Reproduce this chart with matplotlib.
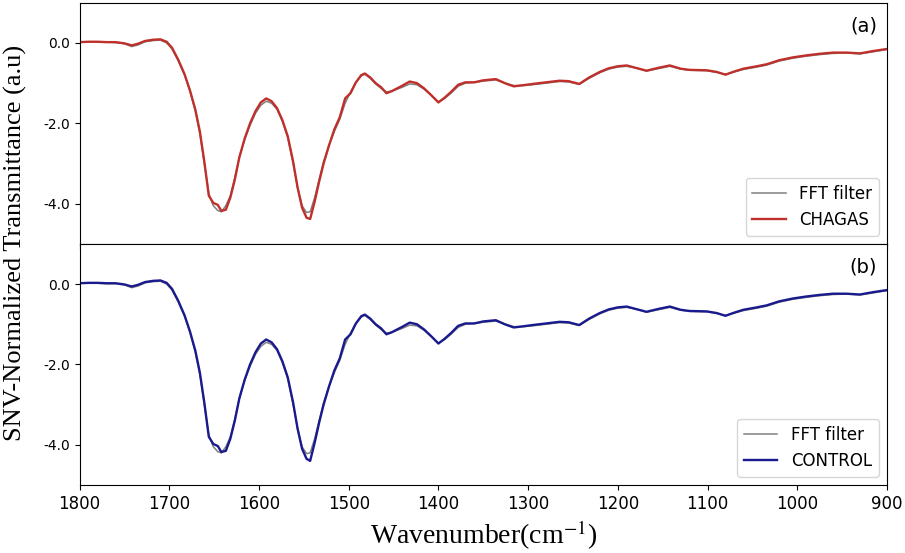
import numpy as np
import matplotlib.pyplot as plt

plt.rcParams['axes.unicode_minus'] = False
plt.rcParams['mathtext.fontset'] = 'stix'

# wavenumbers (cm-1)
wavenumber = [1800, 1790, 1780, 1770, 1760, 1750, 1742, 1735, 1727, 1718,
              1710, 1703, 1697, 1690, 1683, 1677, 1671, 1666, 1661, 1656,
              1651, 1646, 1642, 1637, 1632, 1627, 1622, 1616, 1610, 1604,
              1598, 1592, 1586, 1580, 1574, 1568, 1562, 1557, 1552, 1547,
              1543, 1538, 1533, 1528, 1522, 1516, 1510, 1504, 1498, 1492,
              1486, 1482, 1476, 1470, 1464, 1458, 1452, 1446, 1440, 1432,
              1424, 1416, 1408, 1400, 1393, 1386, 1378, 1370, 1360, 1350,
              1336, 1325, 1316, 1305, 1295, 1280, 1265, 1255, 1243, 1232,
              1220, 1210, 1200, 1190, 1180, 1168, 1155, 1142, 1130, 1120,
              1101, 1090, 1080, 1070, 1060, 1045, 1034, 1020, 1005, 990,
              975, 960, 945, 930, 915, 900]

fft_chagas = [0.02, 0.03, 0.02, 0.02, 0.01, -0.02, -0.09, -0.05, 0.03, 0.06,
              0.07, 0.00, -0.15, -0.45, -0.80, -1.20, -1.70, -2.25, -3.00, -3.75,
              -4.05, -4.17, -4.20, -4.05, -3.80, -3.35, -2.85, -2.40, -2.05, -1.75,
              -1.55, -1.45, -1.50, -1.65, -1.95, -2.35, -3.00, -3.60, -4.05, -4.22,
              -4.20, -3.85, -3.40, -2.95, -2.55, -2.20, -1.90, -1.50, -1.22, -0.98,
              -0.82, -0.78, -0.88, -1.02, -1.13, -1.22, -1.20, -1.15, -1.10, -1.02,
              -1.04, -1.15, -1.30, -1.47, -1.38, -1.25, -1.08, -1.00, -0.98, -0.95,
              -0.92, -1.00, -1.06, -1.06, -1.04, -1.00, -0.96, -0.97, -1.03, -0.88,
              -0.74, -0.65, -0.60, -0.58, -0.62, -0.70, -0.64, -0.58, -0.65, -0.68,
              -0.69, -0.73, -0.78, -0.72, -0.66, -0.60, -0.55, -0.45, -0.38, -0.33,
              -0.29, -0.26, -0.25, -0.27, -0.22, -0.16]

chagas = [0.02, 0.03, 0.03, 0.02, 0.02, -0.01, -0.06, -0.02, 0.05, 0.08,
          0.09, 0.03, -0.12, -0.42, -0.78, -1.18, -1.66, -2.20, -2.95, -3.80,
          -3.98, -4.03, -4.18, -4.15, -3.85, -3.40, -2.85, -2.38, -2.00, -1.70,
          -1.48, -1.38, -1.45, -1.62, -1.92, -2.32, -2.95, -3.60, -4.10, -4.35,
          -4.38, -3.95, -3.45, -3.00, -2.55, -2.15, -1.85, -1.38, -1.25, -0.98,
          -0.80, -0.76, -0.86, -1.00, -1.10, -1.25, -1.20, -1.13, -1.06, -0.96,
          -1.00, -1.13, -1.30, -1.48, -1.36, -1.22, -1.04, -0.98, -0.98, -0.93,
          -0.90, -1.01, -1.08, -1.05, -1.02, -0.98, -0.94, -0.95, -1.02, -0.86,
          -0.72, -0.63, -0.58, -0.56, -0.62, -0.69, -0.62, -0.56, -0.64, -0.67,
          -0.68, -0.72, -0.79, -0.71, -0.64, -0.58, -0.53, -0.43, -0.36, -0.31,
          -0.27, -0.24, -0.24, -0.26, -0.20, -0.15]

fft_control = [0.02, 0.02, 0.02, 0.01, 0.01, -0.02, -0.09, -0.05, 0.03, 0.06,
               0.07, 0.00, -0.15, -0.45, -0.80, -1.20, -1.70, -2.25, -3.00, -3.75,
               -4.05, -4.17, -4.20, -4.05, -3.80, -3.35, -2.85, -2.40, -2.05, -1.75,
               -1.55, -1.45, -1.50, -1.65, -1.95, -2.35, -3.00, -3.60, -4.05, -4.22,
               -4.20, -3.85, -3.40, -2.95, -2.55, -2.20, -1.90, -1.50, -1.22, -0.98,
               -0.82, -0.78, -0.88, -1.02, -1.13, -1.22, -1.20, -1.15, -1.10, -1.02,
               -1.04, -1.15, -1.30, -1.47, -1.38, -1.25, -1.08, -1.00, -0.98, -0.95,
               -0.92, -1.00, -1.06, -1.06, -1.04, -1.00, -0.96, -0.97, -1.03, -0.88,
               -0.74, -0.65, -0.60, -0.58, -0.62, -0.70, -0.64, -0.58, -0.65, -0.68,
               -0.69, -0.73, -0.78, -0.72, -0.66, -0.60, -0.55, -0.45, -0.38, -0.33,
               -0.29, -0.26, -0.25, -0.27, -0.22, -0.16]

control = [0.02, 0.03, 0.03, 0.02, 0.02, -0.01, -0.06, -0.02, 0.05, 0.08,
           0.09, 0.03, -0.12, -0.42, -0.78, -1.18, -1.66, -2.20, -2.95, -3.80,
           -3.98, -4.03, -4.18, -4.15, -3.85, -3.40, -2.85, -2.38, -2.00, -1.70,
           -1.48, -1.38, -1.45, -1.62, -1.92, -2.32, -2.95, -3.60, -4.10, -4.35,
           -4.40, -3.95, -3.45, -3.00, -2.55, -2.15, -1.85, -1.38, -1.25, -0.98,
           -0.80, -0.76, -0.86, -1.00, -1.10, -1.25, -1.20, -1.13, -1.06, -0.96,
           -1.00, -1.13, -1.30, -1.48, -1.36, -1.22, -1.04, -0.98, -0.98, -0.93,
           -0.90, -1.01, -1.08, -1.05, -1.02, -0.98, -0.94, -0.95, -1.02, -0.86,
           -0.72, -0.63, -0.58, -0.56, -0.62, -0.69, -0.62, -0.56, -0.64, -0.67,
           -0.68, -0.72, -0.79, -0.71, -0.64, -0.58, -0.53, -0.43, -0.36, -0.31,
           -0.27, -0.24, -0.24, -0.26, -0.20, -0.15]

panels = [(fft_chagas, chagas, 'CHAGAS', '#c0302b', '(a)'),
          (fft_control, control, 'CONTROL', '#1a1a8f', '(b)')]

fig, axes = plt.subplots(2, 1, sharex=True, figsize=(9.05, 5.53), dpi=100)
fig.subplots_adjust(left=0.088, right=0.98, top=0.995, bottom=0.123, hspace=0)

for ax, (fft, raw, name, color, tag) in zip(axes, panels):
    ax.plot(wavenumber, fft, color='gray', linewidth=1.1, label='FFT filter')
    ax.plot(wavenumber, raw, color=color, linewidth=1.7, label=name)
    ax.set_ylim(-5, 1)
    ax.set_yticks([-4, -2, 0])
    ax.set_yticklabels(['-4.0', '-2.0', '0.0'], fontsize=10)
    ax.text(0.988, 0.945, tag, transform=ax.transAxes, ha='right', va='top', fontsize=14)
    ax.legend(loc='lower right', fontsize=12)

axes[1].set_xlim(1800, 900)
axes[1].set_xticks(np.arange(1800, 899, -100))
axes[1].tick_params(axis='x', labelsize=12)
axes[1].set_xlabel('Wavenumber(cm$^{-1}$)', family='Liberation Serif', fontsize=20)
fig.text(0.004, 0.56, 'SNV-Normalized Transmittance (a.u)', family='Liberation Serif',
         fontsize=19, rotation=90, ha='left', va='center')

plt.savefig('out.png')
